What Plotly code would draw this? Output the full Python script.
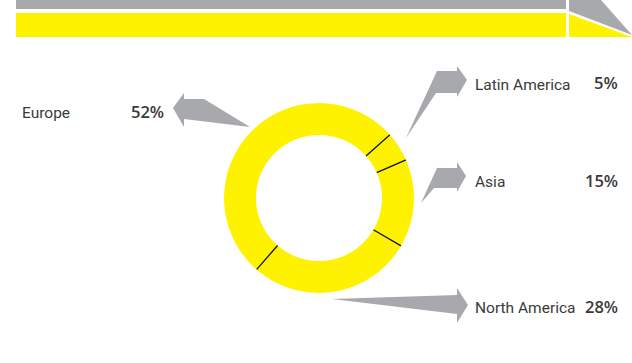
import plotly.graph_objects as go

W, H = 632, 363

# ---- data ----
regions = ["Latin America", "Asia", "North America", "Europe"]
shares = [5, 15, 28, 52]
share_labels = ["5%", "15%", "28%", "52%"]

YELLOW = "#FFF200"
GREY = "#A7A9AC"
TEXT = "#3a3a3a"
START = 48.3  # clock angle where first slice starts

total = sum(shares)
bounds = [START]
for v in shares:
    bounds.append(bounds[-1] + v / total * 360)
centers = [(bounds[i] + bounds[i + 1]) / 2 for i in range(len(shares))]
widths = [v / total * 360 for v in shares]


def px(x, y):
    return f"{x / W:.5f},{1 - y / H:.5f}"


def path(pts):
    return "M " + " L ".join(px(x, y) for x, y in pts) + " Z"


fig = go.Figure()

fig.add_trace(go.Barpolar(
    r=[1] * len(shares), theta=centers, width=widths, base=0,
    marker=dict(color=YELLOW, line=dict(color=YELLOW, width=0.6)),
    text=regions, hoverinfo="text", showlegend=False,
))

sep_r, sep_t = [], []
for b in bounds[:-1]:
    sep_r += [0, 1, None]
    sep_t += [b, b, None]
fig.add_trace(go.Scatterpolar(
    r=sep_r, theta=sep_t, mode="lines",
    line=dict(color="#111111", width=1.3), hoverinfo="skip", showlegend=False,
))

cx0, cx1, cy0, cy1 = 224, 414, 103, 293
fig.update_layout(
    width=W, height=H, margin=dict(l=0, r=0, t=0, b=0),
    paper_bgcolor="white", plot_bgcolor="white",
    polar=dict(
        domain=dict(x=[cx0 / W, cx1 / W], y=[1 - cy1 / H, 1 - cy0 / H]),
        hole=0.663, bargap=0, bgcolor="rgba(0,0,0,0)",
        radialaxis=dict(visible=False, range=[0, 1]),
        angularaxis=dict(visible=False, rotation=90, direction="clockwise"),
    ),
)

shapes = []
# header bars
shapes.append(dict(type="path", path=path([(16, 0), (566, 0), (566, 9), (16, 9)])))
shapes.append(dict(type="path", path=path([(16, 13), (566, 13), (566, 37), (16, 37)]), fillcolor=YELLOW))
shapes.append(dict(type="path", path=path([(569, 0), (601, 0), (632, 35), (569, 11)])))
shapes.append(dict(type="path", path=path([(569, 14), (632, 37), (569, 37)]), fillcolor=YELLOW))
# arrows
arrows = [
    [(173, 108), (184, 93), (184, 99), (204, 99), (250, 127), (184, 119), (184, 127)],
    [(467, 80), (457, 66), (457, 71), (437, 71), (406, 138), (436, 93), (457, 93), (457, 97)],
    [(466, 176), (457, 162), (457, 168), (437, 168), (421, 203), (434, 188), (457, 188), (457, 192)],
    [(468, 305), (457, 288), (457, 295), (332, 299), (457, 314), (457, 323)],
]
for a in arrows:
    shapes.append(dict(type="path", path=path(a)))
for s in shapes:
    s.update(xref="paper", yref="paper", line=dict(width=0), layer="below")
    s.setdefault("fillcolor", GREY)
fig.update_layout(shapes=shapes)

label_pos = {
    "Latin America": (473, 85, 620),
    "Asia": (473, 182, 620),
    "North America": (473, 308, 620),
    "Europe": (20, 113, 166),
}
for name, lab in zip(regions, share_labels):
    x, y, xr = label_pos[name]
    fig.add_annotation(x=x / W, y=1 - y / H, xref="paper", yref="paper", text=name,
                       showarrow=False, xanchor="left", yanchor="middle",
                       font=dict(family="Roboto", size=15.5, color=TEXT))
    fig.add_annotation(x=xr / W, y=1 - (y - 2) / H, xref="paper", yref="paper", text=lab,
                       showarrow=False, xanchor="right", yanchor="middle",
                       font=dict(family="Open Sans", size=16.5, weight=600, color=TEXT))

fig.write_html("out.html")
